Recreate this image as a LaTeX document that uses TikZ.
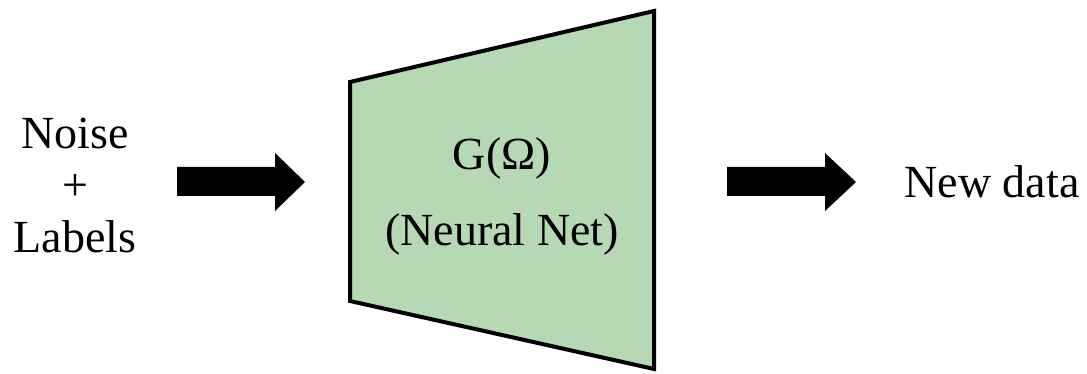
\documentclass[tikz,border=0pt]{standalone}
\usepackage{fontspec}
\setmainfont{Liberation Serif}
\definecolor{netgreen}{RGB}{182,216,180}
\begin{document}
\begin{tikzpicture}[x=1pt,y=-1pt,
  lbl/.style={anchor=base,inner sep=0pt,font=\fontsize{46}{56}\selectfont},
  blockarrow/.style={fill=black,draw=none}]
\useasboundingbox (0,0) rectangle (1087,374);
% generator trapezoid
\draw[line width=4pt,fill=netgreen,line join=miter]
  (350,82) -- (654,11) -- (654,369) -- (350,301) -- cycle;
% arrows
\fill[blockarrow] (177,167) -- (275,167) -- (275,153) -- (305,182) -- (275,211) -- (275,196) -- (177,196) -- cycle;
\fill[blockarrow] (727,167) -- (825,167) -- (825,153) -- (856,182) -- (825,211) -- (825,196) -- (727,196) -- cycle;
% texts
\node[lbl] (noise) at (75,149) {Noise};
\node[lbl] (plus) at (75,201) {+};
\node[lbl] (labels) at (75,252) {Labels};
\node[lbl] (g) at (502,170) {G(Ω)};
\node[lbl] (nn) at (502,245) {(Neural Net)};
\node[lbl] (new) at (992,198) {New data};
\end{tikzpicture}
\end{document}
